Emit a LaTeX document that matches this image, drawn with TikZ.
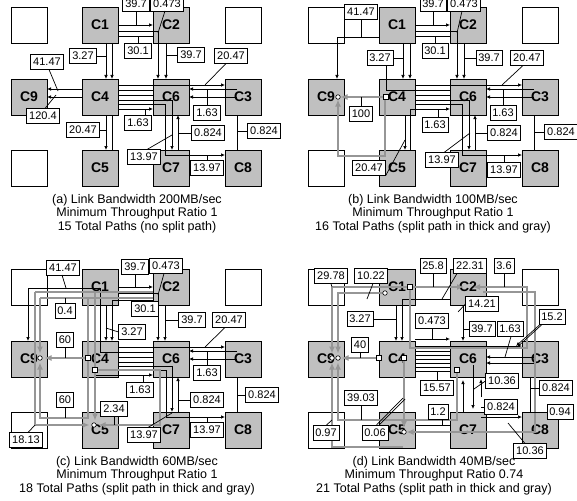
\documentclass[tikz,border=0pt]{standalone}
\usepackage{fontspec}
\setmainfont{Liberation Sans}
\usetikzlibrary{arrows.meta}
\definecolor{cellgray}{RGB}{192,192,192}
\definecolor{pathgray}{RGB}{150,150,150}
\tikzset{
  cell/.style={draw, fill=cellgray, minimum width=36pt, minimum height=36pt, inner sep=0pt, line width=0.6pt, font=\bfseries\fontsize{14}{14}\selectfont},
  blank/.style={draw, fill=white, minimum width=36pt, minimum height=36pt, inner sep=0pt, line width=0.6pt},
  lab/.style={draw, fill=white, inner xsep=2.5pt, inner ysep=0pt, minimum height=15pt, line width=0.6pt, font=\fontsize{11}{11}\selectfont},
  w/.style={line width=0.7pt},
  arr/.style={-{Latex[length=4pt,width=3.5pt]}},
  gp/.style={line width=2pt, draw=pathgray},
  garr/.style={-{Latex[length=7pt,width=6pt]}},
  sq/.style={draw, fill=white, minimum size=4.5pt, inner sep=0pt, line width=0.6pt},
  circ/.style={circle, draw, fill=white, minimum size=4.5pt, inner sep=0pt, line width=0.6pt},
  capt/.style={align=center, font=\fontsize{12.5}{13.5}\selectfont}
}
\def\pboxes{%
  \node[blank] (TL) at (29,25) {};
  \node[cell] (C1) at (100,25) {C1};
  \node[cell] (C2) at (171,25) {C2};
  \node[blank] (TR) at (243,25) {};
  \node[cell] (C9) at (29,97) {C9};
  \node[cell] (C4) at (100,97) {C4};
  \node[cell] (C6) at (171,97) {C6};
  \node[cell] (C3) at (243,97) {C3};
  \node[blank] (BL) at (29,168) {};
  \node[cell] (C5) at (100,168) {C5};
  \node[cell] (C7) at (171,168) {C7};
  \node[cell] (C8) at (243,168) {C8};
}
\begin{document}
\begin{tikzpicture}[x=1pt,y=-1pt]
\useasboundingbox (0,0) rectangle (577,500);
\fill[white] (0,0) rectangle (577,500);

% ================= panel (a)
\begin{scope}[name prefix=a-]
\pboxes
\draw[w,arr] (118,25) -- (153,25);
\draw[w,arr] (118,31) -- (158,31) -- (158,79);
\draw[w] (118,36) -- (153,36);
\draw[w,arr] (106,43) -- (106,79);
\draw[w,arr] (112,43) -- (112,79);
\draw[w,arr] (166,43) -- (166,79);
\draw[w,arr] (82,89) -- (47,89);
\draw[w,arr] (82,97) -- (47,97);
\draw[w,arr] (118,85) -- (225,85);
\draw[w] (118,90) -- (153,90);
\draw[w] (118,95) -- (153,95);
\draw[w,arr] (118,100) -- (172,100) -- (172,150);
\draw[w,arr] (118,104) -- (165,104) -- (165,155) -- (225,155);
\draw[w,arr] (118,109) -- (153,109);
\draw[w,arr] (178,150) -- (178,115);
\draw[w,arr] (237,89) -- (189,89);
\draw[w,arr] (237,97) -- (189,97);
\draw[w] (237,150) -- (237,115);
\draw[w,arr] (106,115) -- (106,150);
\draw[w] (112,150) -- (112,115);
\node[lab] (l1) at (136,3.5) {39.7};   \draw[w] (l1.south) -- (136,25);
\node[lab] (l2) at (167,3.5) {0.473};  \draw[w] (165,11) -- (158,33);
\node[lab] (l3) at (138,51) {30.1};    \draw[w] (l3.north) -- (138,36);
\node[lab] (l4) at (83,56) {3.27};     \draw[w] (l4.east) -- (106,56);
\node[lab] (l5) at (191,55) {39.7};    \draw[w] (l5.west) -- (166,55);
\node[lab] (l6) at (231,56) {20.47};   \draw[w] (226,63.5) -- (205,85);
\node[lab] (l7) at (47,62) {41.47};    \draw[w] (49,69.5) -- (58,91);
\node[lab] (l8) at (43,116) {120.4};   \draw[w] (45,108.5) -- (56,95);
\node[lab] (l9) at (138,123) {1.63};   \draw[w] (145,115.5) -- (145,109);
\node[lab] (l10) at (207,113) {1.63};  \draw[w] (l10.north) -- (207,89);
\node[lab] (l11) at (83,130) {20.47};  \draw[w] (l11.east) -- (106,130);
\node[lab] (l12) at (208,133) {0.824}; \draw[w] (l12.west) -- (178,133);
\node[lab] (l13) at (264,131) {0.824}; \draw[w] (l13.west) -- (237,131);
\node[lab] (l14) at (144,157) {13.97}; \draw[w] (147,149.5) -- (172,135);
\node[lab] (l15) at (207,168) {13.97}; \draw[w] (l15.north) -- (207,155);
\node[capt] (cap) at (137,213.5) {(a) Link Bandwidth 200MB/sec\\Minimum Throughput Ratio 1\\15 Total Paths (no split path)};
\end{scope}

% ================= panel (b)
\begin{scope}[shift={(297,0)}, name prefix=b-]
\pboxes
\draw[w,arr] (118,25) -- (153,25);
\draw[w,arr] (118,31) -- (160,31) -- (160,79);
\draw[w] (118,36) -- (153,36);
\draw[w,arr] (167,43) -- (167,79);
\draw[w,arr] (106,43) -- (106,79);
\draw[w,arr] (113,43) -- (113,79);
\draw[w,arr] (82,37) -- (40,37) -- (40,79);
\draw[w] (89,63) -- (89,90) -- (153,90);
\draw[w,arr] (118,85) -- (225,85);
\draw[w] (118,95) -- (153,95);
\draw[w,arr] (118,100) -- (172,100) -- (172,150);
\draw[w,arr] (118,104) -- (165,104) -- (165,155) -- (225,155);
\draw[w,arr] (113,150) -- (113,109) -- (153,109);
\draw[w,arr] (108,115) -- (108,150);
\draw[w,arr] (178,150) -- (178,115);
\draw[w,arr] (237,89) -- (189,89);
\draw[w,arr] (237,97) -- (189,97);
\draw[w] (237,150) -- (237,115);
\draw[gp,garr] (86.5,97) -- (43.5,97);
\draw[gp,garr] (88,99.5) -- (88,156) -- (41,156) -- (41,99.5);
\node[circ] (o1) at (41,97) {};
\node[sq] (s1) at (89,97) {};
\node[lab] (l1) at (136,3.5) {39.7};   \draw[w] (l1.south) -- (136,25);
\node[lab] (l2) at (167,3.5) {0.473};  \draw[w] (165,11) -- (160,33);
\node[lab] (l3) at (64,12) {41.47};    \draw[w] (l3.south) -- (64,37);
\node[lab] (l4) at (138,51) {30.1};    \draw[w] (l4.north) -- (138,36);
\node[lab] (l5) at (83,58) {3.27};     \draw[w] (l5.east) -- (106,58);
\node[lab] (l6) at (192,58) {39.7};    \draw[w] (l6.west) -- (167,58);
\node[lab] (l7) at (230,58) {20.47};   \draw[w] (226,65.5) -- (205,85);
\node[lab] (l8) at (64,114) {100};     \draw[w] (l8.north) -- (64,97);
\node[lab] (l9) at (138,125) {1.63};   \draw[w] (141,117.5) -- (141,109);
\node[lab] (l10) at (206,113) {1.63};  \draw[w] (l10.north) -- (206,89);
\node[lab] (l11) at (72,168) {20.47};  \draw[w] (l11.south east) -- (108,140);
\node[lab] (l12) at (207,133) {0.824}; \draw[w] (l12.west) -- (178,133);
\node[lab] (l13) at (264,132) {0.824}; \draw[w] (l13.west) -- (237,132);
\node[lab] (l14) at (145,160) {13.97}; \draw[w] (147,152.5) -- (173,133);
\node[lab] (l15) at (207,170) {13.97}; \draw[w] (l15.north) -- (207,155);
\node[capt] (cap) at (136,213.5) {(b) Link Bandwidth 100MB/sec\\Minimum Throughput Ratio 1\\16 Total Paths (split path in thick and gray)};
\end{scope}

% ================= panel (c)
\begin{scope}[shift={(0,262)}, name prefix=c-]
\pboxes
\draw[w,arr] (118,25) -- (153,25);
\draw[w,arr] (118,31) -- (158,31) -- (158,79);
\draw[w,arr] (165,43) -- (165,79);
\draw[w,arr] (153,38) -- (112,38) -- (112,79);
\draw[w,arr] (106,43) -- (106,79);
\draw[w,arr] (153,90) -- (100,90) -- (100,26) -- (28,26) -- (28,79);
\draw[w,arr] (118,85) -- (225,85);
\draw[w] (118,95) -- (153,95);
\draw[w] (118,100) -- (153,100);
\draw[w,arr] (118,104) -- (172,104) -- (172,150);
\draw[w,arr] (118,108) -- (166,108) -- (166,155) -- (225,155);
\draw[w,arr] (95,150) -- (95,113) -- (153,113);
\draw[w,arr] (178,150) -- (178,115);
\draw[w,arr] (237,89) -- (189,89);
\draw[w,arr] (237,97) -- (189,97);
\draw[w] (237,150) -- (237,115);
\draw[gp] (153,30) -- (35,30);
\draw[gp,garr] (35,30) -- (35,163) -- (89.5,163);
\draw[gp,garr] (95,30) -- (95,158.5);
\draw[gp] (153,36) -- (40,36);
\draw[gp,garr] (40,36) -- (40,91.5);
\draw[gp,garr] (88,36) -- (88,156) -- (40,156) -- (40,100.5);
\draw[gp,garr] (85.5,96) -- (44.5,96);
\draw[gp,garr] (97.5,108) -- (160,108) -- (160,163) -- (98.5,163);
\node[circ] (o1) at (40,96) {};
\node[circ] (o2) at (94,163) {};
\node[sq] (s1) at (88,96) {};
\node[sq] (s2) at (95,108) {};
\node[lab] (l1) at (63,5.5) {41.47};   \draw[w] (62,13) -- (66,26);
\node[lab] (l2) at (135,5) {39.7};     \draw[w] (l2.south) -- (135,25);
\node[lab] (l3) at (166,4) {0.473};    \draw[w] (164,11.5) -- (158,33);
\node[lab] (l4) at (65,49) {0.4};      \draw[w] (l4.north) -- (65,36);
\node[lab] (l5) at (145,47) {30.1};    \draw[w] (l5.north) -- (145,38);
\node[lab] (l6) at (192,58) {39.7};    \draw[w] (l6.west) -- (165,58);
\node[lab] (l7) at (229,58) {20.47};   \draw[w] (225,65.5) -- (205,85);
\node[lab] (l8) at (132,70) {3.27};    \draw[w] (l8.west) -- (106,66);
\node[lab] (l9) at (65,78) {60};       \draw[w] (l9.south) -- (65,96);
\node[lab] (l10) at (65,138) {60};     \draw[w] (l10.south) -- (65,156);
\node[lab] (l11) at (114,147) {2.34};  \draw[w] (l11.south) -- (114,163);
\node[lab] (l12) at (26,178) {18.13};  \draw[w] (28,170.5) -- (35,163);
\node[lab] (l13) at (140,128) {1.63};  \draw[w] (143,120.5) -- (143,113);
\node[lab] (l14) at (207,111) {1.63};  \draw[w] (l14.north) -- (207,89);
\node[lab] (l15) at (207,138) {0.824}; \draw[w] (l15.west) -- (178,138);
\node[lab] (l16) at (262,133) {0.824}; \draw[w] (l16.west) -- (237,133);
\node[lab] (l17) at (144,173) {13.97}; \draw[w] (148,165.5) -- (172,151);
\node[lab] (l18) at (207,168) {13.97}; \draw[w] (l18.north) -- (207,155);
\node[capt] (cap) at (137,213.5) {(c) Link Bandwidth 60MB/sec\\Minimum Throughput Ratio 1\\18 Total Paths (split path in thick and gray)};
\end{scope}

% ================= panel (d)
\begin{scope}[shift={(297,262)}, name prefix=d-]
\pboxes
\draw[w,arr] (99,43) -- (99,79);
\draw[w,arr] (153,37) -- (105,37) -- (105,79);
\draw[w,arr] (166,43) -- (166,79);
\draw[w,arr] (118,77) -- (153,77);
\draw[w,arr] (118,84) -- (225,84);
\draw[w] (118,89) -- (153,89);
\draw[w] (118,93) -- (153,93);
\draw[w] (118,97) -- (153,97);
\draw[w] (118,101) -- (153,101);
\draw[w] (118,105) -- (153,105);
\draw[w] (118,109) -- (153,109);
\draw[w,arr] (237,95) -- (189,95);
\draw[w,arr] (237,101) -- (189,101);
\draw[w,arr] (176,103) -- (176,147);
\draw[w,arr] (184,135) -- (184,117);
\draw[w,arr] (166,150) -- (166,118);
\draw[w] (233,150) -- (233,115);
\draw[w,arr] (184,155) -- (225,155);
\draw[w] (118,163) -- (153,163);
\draw[gp,garr] (35,25) -- (167,25);
\draw[gp,garr] (113,25) -- (113,86) -- (230,86) -- (230,25) -- (176,25);
\draw[gp,garr] (35,25) -- (35,91.5);
\draw[gp,garr] (186,30) -- (238,30) -- (238,170) -- (109.5,170);
\draw[gp,garr] (106,185) -- (35,185) -- (35,100.5);
\draw[gp,garr] (85.5,31) -- (41,31) -- (41,91.5);
\draw[gp,garr] (160,111) -- (160,158) -- (41,158) -- (41,100.5);
\draw[gp,garr] (79.5,96) -- (44.5,96);
\draw[gp,garr] (107,98.5) -- (107,166);
\node[circ] (o1) at (35,96) {};
\node[circ] (o2) at (41,96) {};
\node[circ] (o3) at (88,31) {};
\node[circ] (o4) at (107,170) {};
\node[sq] (s1) at (113,25) {};
\node[sq] (s2) at (82,96) {};
\node[sq] (s3) at (107,96) {};
\node[sq] (s4) at (160,108) {};
\node[lab] (l1) at (34,14) {29.78};   \draw[w] (l1.south) -- (35,25);
\node[lab] (l2) at (74,14) {10.22};   \draw[w] (76,21.5) -- (70,37);
\node[lab] (l3) at (136,4) {25.8};    \draw[w] (l3.south) -- (136,25);
\node[lab] (l4) at (173,4) {22.31};   \draw[w] (160,11.5) -- (145,37);
\node[lab] (l5) at (207,4) {3.6};     \draw[w] (l5.south) -- (207,25);
\node[lab] (l6) at (185,42) {14.21};  \draw[w] (l6.west) -- (161,50);
\node[lab] (l7) at (63,57) {3.27};    \draw[w] (l7.east) -- (99,57);
\node[lab] (l8) at (135,59) {0.473};  \draw[w] (l8.south) -- (135,77);
\node[lab] (l9) at (185,67) {39.7};   \draw[w] (l9.west) -- (166,67);
\node[lab] (l10) at (213,67) {1.63};  \draw[w] (214,74.5) -- (208,95);
\node[lab] (l11) at (255,55) {15.2};
\draw[w,arr] (243,62.5) -- (219,84);
\draw[w] (245,62.5) -- (222,83.5);
\node[lab] (l12) at (63,83) {40};     \draw[w] (l12.south) -- (63,96);
\node[lab] (l13) at (140,126) {15.57}; \draw[w] (l13.north) -- (140,109);
\node[lab] (l14) at (205,119) {10.36}; \draw[w] (l14.west) -- (177,127);
\node[lab] (l15) at (204,145) {0.824}; \draw[w] (l15.west) -- (184,145);
\node[lab] (l16) at (259,126) {0.824}; \draw[w] (l16.west) -- (233,126);
\node[lab] (l17) at (263,150) {0.94};  \draw[w] (l17.west) -- (233,150);
\node[lab] (l18) at (141,150) {1.2};   \draw[w] (145,157.5) -- (145,163);
\node[lab] (l19) at (64,136) {39.03};  \draw[w] (l19.south) -- (64,158);
\node[lab] (l20) at (29,171) {0.97};   \draw[w] (29,163.5) -- (35,158);
\node[lab] (l21) at (78,171) {0.06};
\draw[w] (79,163.5) -- (106,136);
\draw[w] (81.5,163.5) -- (108,137);
\node[lab] (l22) at (233,189) {10.36}; \draw[w] (228,181.5) -- (211,161);
\node[capt] (cap) at (137,213.5) {(d) Link Bandwidth 40MB/sec\\Minimum Throughput Ratio 0.74\\21 Total Paths (split path in thick and gray)};
\end{scope}
\end{tikzpicture}
\end{document}
